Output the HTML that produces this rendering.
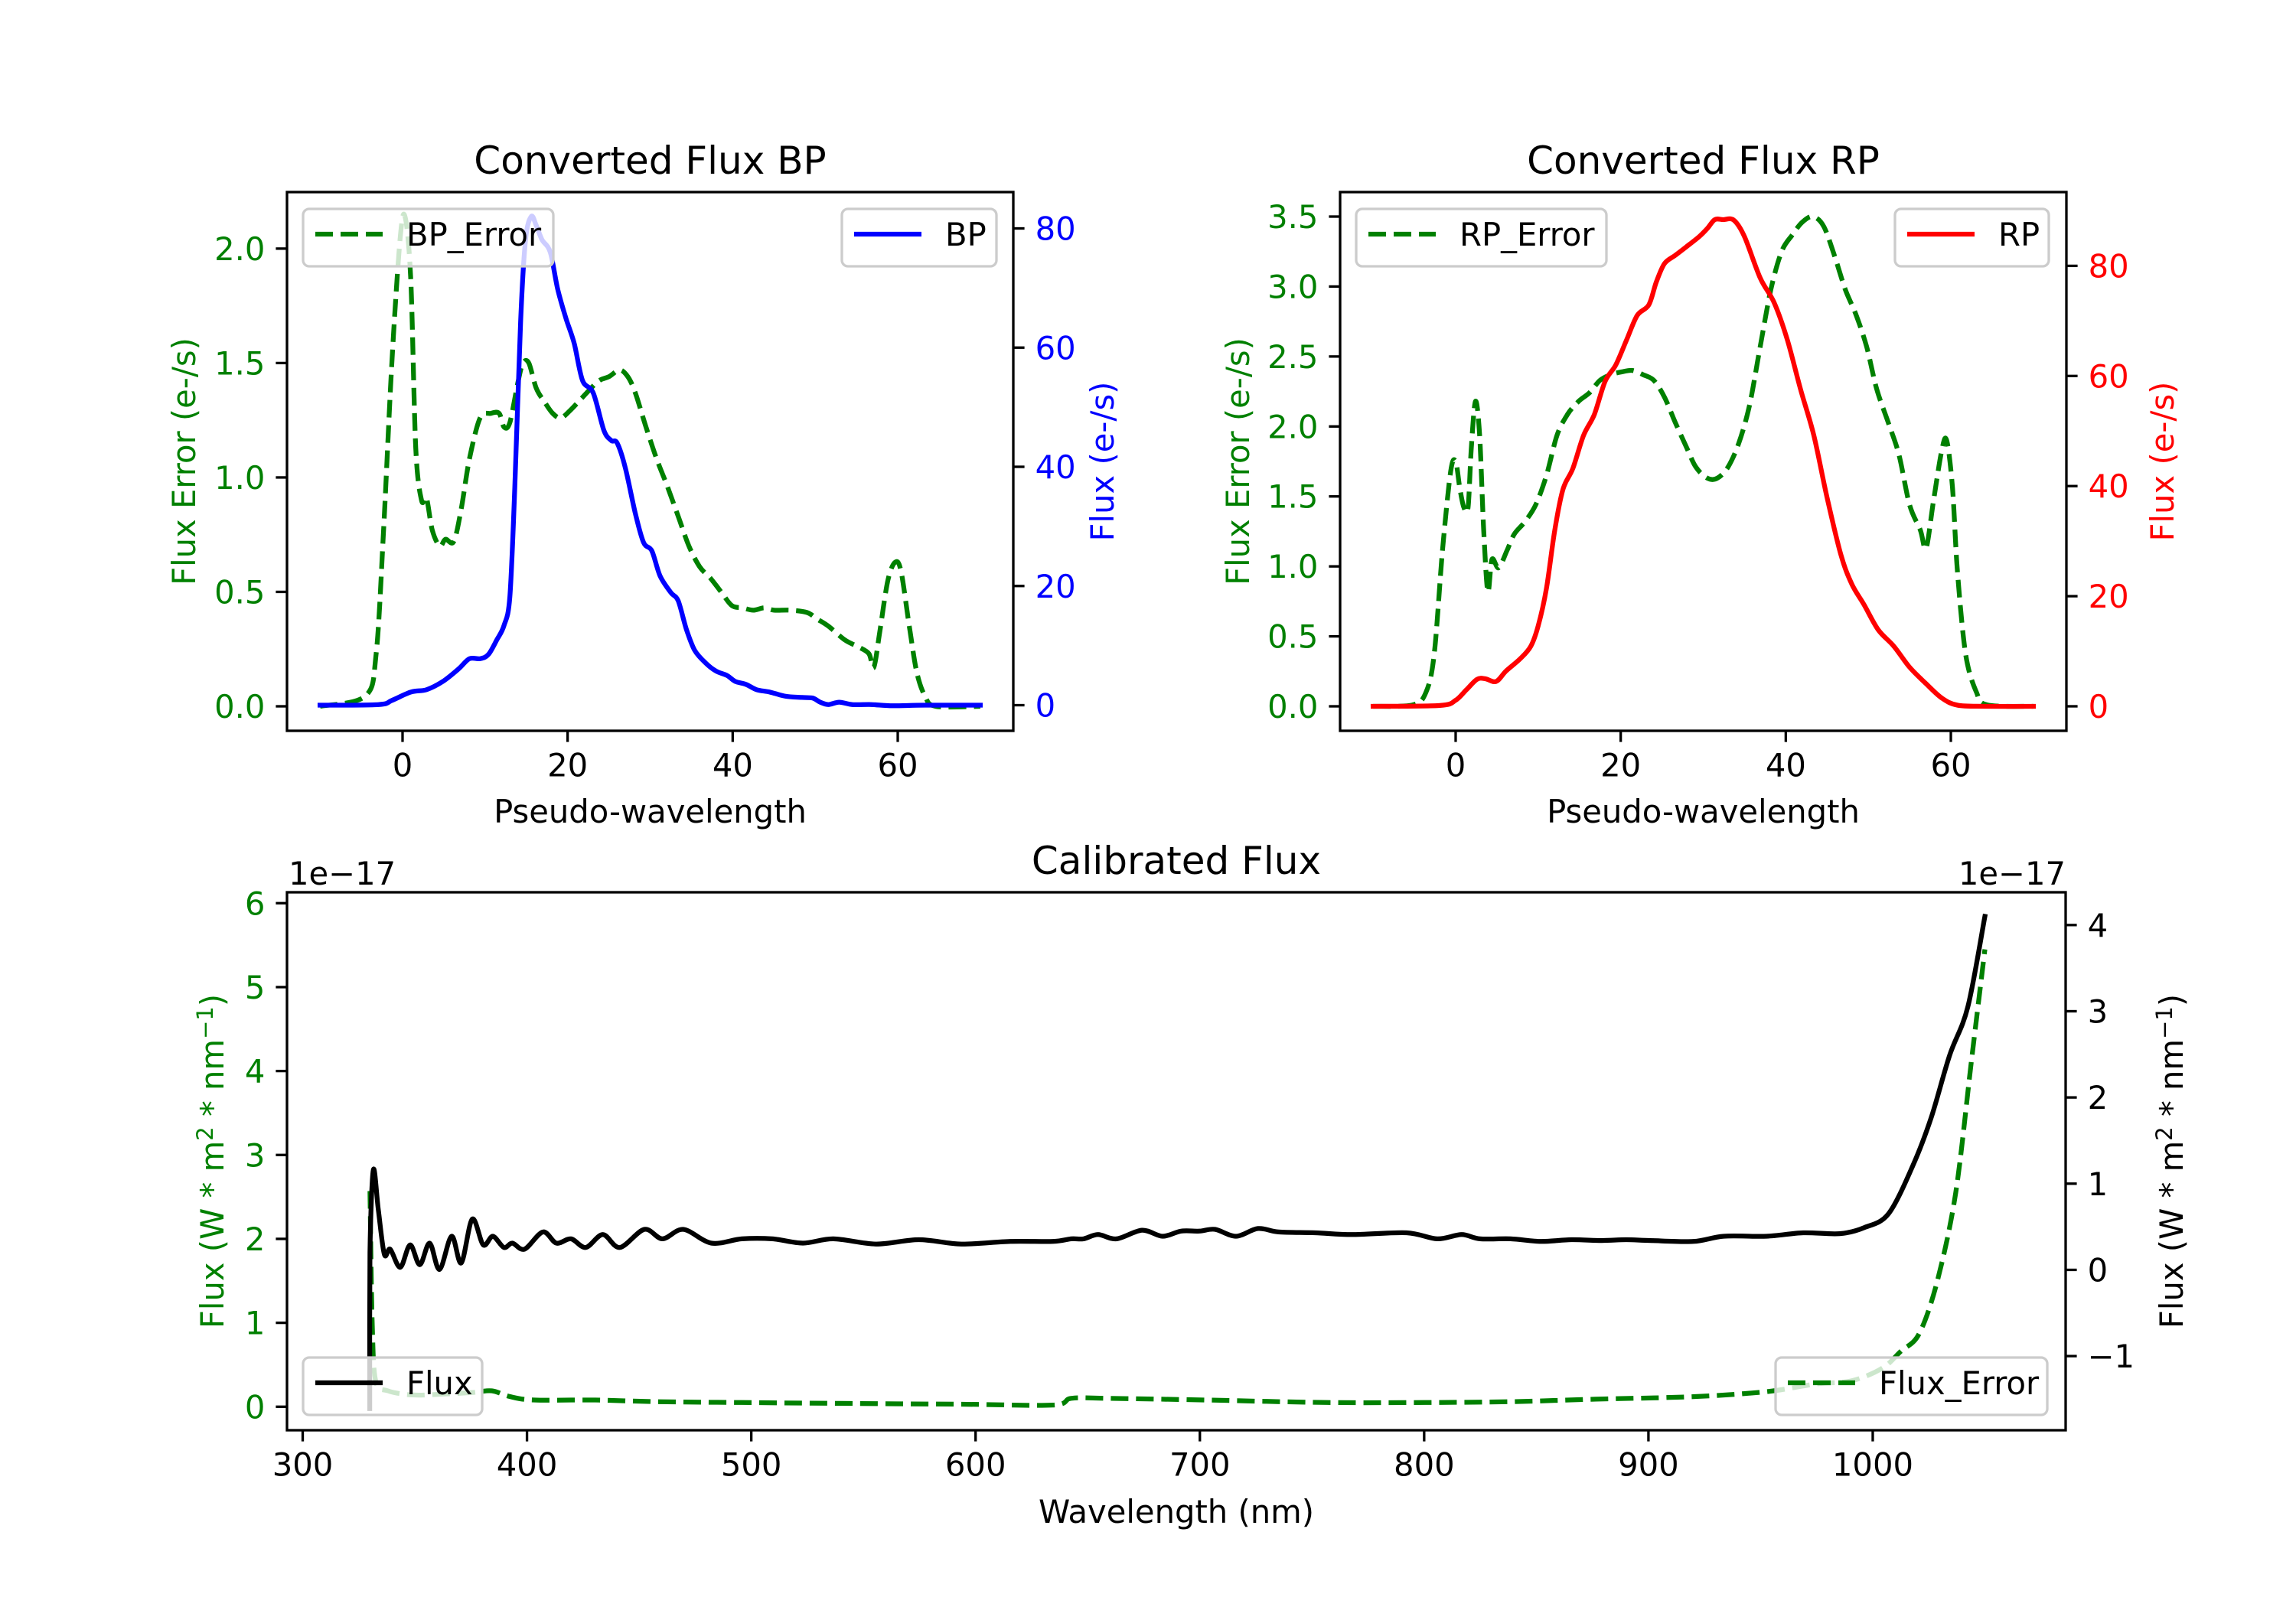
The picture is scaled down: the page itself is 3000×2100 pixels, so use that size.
<!DOCTYPE html>
<html><head><meta charset="utf-8"><style>
html,body{margin:0;padding:0;background:#fff;}
svg{display:block;font-family:"DejaVu Sans","Liberation Sans",sans-serif;}
</style></head>
<body>
<svg id="fig" width="3000" height="2100" viewBox="0 0 3000 2100" xmlns="http://www.w3.org/2000/svg">
<rect width="3000" height="2100" fill="#fff"/>
</svg>
<script>
// ---- BP data ----
const bpErrX = [-10,-4.5,-3.2,-2.3,-1.3,-0.3,0.3,1,1.6,2.3,2.9,3.6,4.5,5.2,6.2,7.1,8.1,9.4,10.7,11.7,12.3,13,14,14.6,15.3,16.2,17.2,18.2,19.2,20.5,21.8,23.7,25,26.3,27.3,28.2,29.5,30.8,32.1,33.4,34.7,36,37.3,38.6,39.9,41.2,42.5,43.8,45,47,49,50.3,51.6,53.6,55.2,56.5,57.1,57.8,58.8,59.7,60.4,61.4,62.3,63.3,64.6,70];
const bpErrY = [0,0.045,0.23,0.77,1.5,2.04,2.14,1.86,1.13,0.9,0.91,0.77,0.70,0.73,0.72,0.86,1.08,1.26,1.28,1.28,1.22,1.24,1.42,1.50,1.50,1.39,1.33,1.28,1.26,1.30,1.35,1.42,1.44,1.47,1.44,1.37,1.22,1.08,0.96,0.83,0.70,0.61,0.56,0.50,0.44,0.43,0.42,0.43,0.42,0.42,0.41,0.38,0.35,0.29,0.26,0.23,0.17,0.32,0.55,0.63,0.59,0.35,0.15,0.045,0,0];
const bpX = [-10,-2.9,-1.3,1,2.9,4.9,6.8,8.1,9.4,10.4,11.4,12.3,13,13.6,14.3,14.9,15.6,16.2,16.9,17.9,18.8,19.8,20.8,21.8,23.1,24.4,25.3,26,27,28.2,29.2,30.2,31.2,32.5,33.4,34.4,35.4,36.7,38,39.3,40.3,41.6,42.9,44.5,46.4,48.4,49.7,50.6,51.6,52.9,54.5,56.8,59.4,63.3,70];
const bpY = [0,0.1,0.8,2.2,2.6,4.0,6.1,7.8,7.8,8.5,10.9,13.4,18.2,36.4,64.2,78.1,82,80.5,78.1,76,69.8,64.9,60.7,54.5,52.4,46.1,44.4,44,39.8,32.2,27.3,25.9,21.7,18.9,17.5,12.7,9.2,7.1,5.7,5.0,4.0,3.5,2.6,2.2,1.5,1.3,1.2,0.5,0.1,0.5,0.1,0.1,-0.1,0,0];
// ---- RP data ----
const rpErrX = [-10,-5.2,-3.6,-2.6,-1.6,-0.6,0,0.5,1,1.5,1.9,2.4,2.9,3.4,3.9,4.4,5.2,6.2,7.1,8.4,9.7,11,12.3,13.6,14.9,16.2,17.5,18.8,20.1,21.4,22.7,24,25.3,26.6,27.9,29.1,30.5,31.7,33,34.3,35.6,36.9,38.2,39.5,40.8,42,43.3,44.6,45.9,47.2,48.5,49.8,51,52.4,53.7,55,56.3,57,57.9,58.9,59.5,60.2,60.8,61.8,63.1,64.4,70];
const rpErrY = [0,0.01,0.1,0.37,1.11,1.68,1.75,1.56,1.42,1.42,1.85,2.18,1.94,1.26,0.82,1.05,0.99,1.11,1.23,1.32,1.44,1.65,1.94,2.09,2.18,2.24,2.33,2.37,2.39,2.40,2.37,2.33,2.21,2.03,1.86,1.71,1.63,1.63,1.71,1.88,2.15,2.57,2.98,3.25,3.37,3.46,3.50,3.43,3.22,2.98,2.80,2.57,2.27,2.03,1.80,1.44,1.26,1.13,1.47,1.83,1.90,1.56,0.96,0.37,0.10,0.01,0];
const rpX = [-10,-1.9,0,1.3,2.6,3.6,4.9,6.1,7.8,9.1,10,11,12,13,14.2,15.5,16.8,18.1,19.4,20.7,22,23.4,24.3,25.3,26.6,27.9,29.5,30.5,31.4,32.4,33.7,35,36.9,38.6,40.2,41.8,43.4,45,46.7,48,49.5,51.2,53.1,55,57,58.9,60.8,64.1,70];
const rpY = [0,0.15,1.1,3.0,4.9,5.0,4.5,6.4,8.6,10.9,14.6,21.4,31.9,39.4,43.2,49.2,53,59,62,66.5,71,72.9,77,80.4,81.9,83.4,85.3,86.8,88.4,88.4,88.3,85.3,77.8,73.3,66.5,57.5,49.2,37.9,27.4,22.2,18.4,13.9,10.9,7.1,4.1,1.5,0.2,0,0];
// ---- Calibrated data (units of 1e-17) ----
const calX = [329.9,330,331.5,333.7,336.4,339,343.5,347.9,352.2,356.6,361,366.4,370.7,375.6,380.5,384.8,389.7,393.5,398.9,407.1,413.1,419.6,426.2,433.8,441.4,452.3,460.4,469.7,482.2,495.8,509.4,523,536.6,555.6,574.7,593.7,615.5,634.5,642.7,648.1,654.6,662.8,674.2,683.4,691.6,699.8,706.8,716.1,725.9,735.1,751.4,767.8,792.2,805.8,816.7,824.9,838.5,852.1,865.6,879.2,890.1,901,920,933.6,952.7,969,985.3,996.2,1007,1017.9,1026.1,1034.3,1042.4,1050];
const calY = [-1.61,0.2,1.16,0.70,0.18,0.24,0.03,0.29,0.06,0.31,0.005,0.39,0.08,0.59,0.29,0.39,0.26,0.31,0.24,0.44,0.31,0.36,0.26,0.41,0.26,0.47,0.36,0.47,0.31,0.36,0.36,0.31,0.36,0.30,0.35,0.30,0.33,0.33,0.36,0.36,0.41,0.36,0.46,0.39,0.45,0.45,0.47,0.39,0.48,0.44,0.43,0.41,0.43,0.36,0.41,0.36,0.36,0.33,0.35,0.34,0.35,0.34,0.33,0.39,0.39,0.43,0.42,0.49,0.65,1.21,1.77,2.49,3.05,4.10];
const calErrX = [330,331,332.6,338,348.9,362.5,376,384.3,392.5,403.3,430.5,457.7,495.8,539.3,593.7,634.5,642.7,659,702.5,756.9,800.4,838.5,876.6,920,952.7,974.4,990.7,1004.3,1012.5,1020.7,1028.8,1037,1044,1050];
const calErrY = [2.57,0.98,0.30,0.19,0.14,0.15,0.17,0.19,0.12,0.08,0.08,0.06,0.05,0.04,0.03,0.02,0.10,0.10,0.08,0.05,0.05,0.06,0.09,0.12,0.18,0.27,0.31,0.46,0.66,0.87,1.50,2.55,4.12,5.45];
// ---- tick labels ----
const topXTicks = [0,20,40,60];
const bpErrTicks = [0,0.5,1.0,1.5,2.0];
const bpTicks = [0,20,40,60,80];
const rpErrTicks = [0,0.5,1.0,1.5,2.0,2.5,3.0,3.5];
const rpTicks = [0,20,40,60,80];
const calXTicks = [300,400,500,600,700,800,900,1000];
const calErrTicks = [0,1,2,3,4,5,6];
const calTicks = [-1,0,1,2,3,4];

const NS = 'http://www.w3.org/2000/svg';
const svg = document.getElementById('fig');
const FS = 41.7, TL = 14.6, LW = 6.25;
function el(tag, attrs, parent, txt){
  const e = document.createElementNS(NS, tag);
  for (const k in attrs) e.setAttribute(k, attrs[k]);
  if (txt !== undefined) e.textContent = txt;
  (parent || svg).appendChild(e);
  return e;
}
function lin(d0,d1,p0,p1){ return v => p0 + (v-d0)*(p1-p0)/(d1-d0); }
function fmt(v,dec){ let s = v.toFixed(dec); return s.replace('-', '\u2212'); }
function smoothPath(P){
  let d = 'M' + P[0][0].toFixed(1) + ',' + P[0][1].toFixed(1);
  const k = 0.16;
  for (let i = 0; i < P.length-1; i++){
    const p0 = P[Math.max(i-1,0)], p1 = P[i], p2 = P[i+1], p3 = P[Math.min(i+2,P.length-1)];
    const c1x = p1[0] + (p2[0]-p0[0])*k, c1y = p1[1] + (p2[1]-p0[1])*k;
    const c2x = p2[0] - (p3[0]-p1[0])*k, c2y = p2[1] - (p3[1]-p1[1])*k;
    d += ' C' + c1x.toFixed(1)+','+c1y.toFixed(1)+' '+c2x.toFixed(1)+','+c2y.toFixed(1)+' '+p2[0].toFixed(1)+','+p2[1].toFixed(1);
  }
  return d;
}

function panel(cfg){
  const g = el('g', {});
  
  
  const {L,R,T,B} = cfg;
  const sx = lin(cfg.xlim[0], cfg.xlim[1], L, R);
  const syL = lin(cfg.ylL[0], cfg.ylL[1], B, T);
  const syR = lin(cfg.ylR[0], cfg.ylR[1], B, T);
  function series(xs, ys, sy, color, dashed, nm){
    const P = xs.map((x,i)=> [sx(x), sy(ys[i])]);
    const p = el('path', {d: smoothPath(P), fill:'none', stroke: color, 'stroke-width': LW, 'stroke-linejoin':'round', 'stroke-linecap': dashed ? 'butt':'square'}, g);
    if (dashed) p.setAttribute('stroke-dasharray', '23 10');
    
    
  }
  for (const s of cfg.series) series(s.x, s.y, s.axis==='L'?syL:syR, s.color, s.dashed, s.name);
  const fr = el('rect', {x:L, y:T, width:R-L, height:B-T, fill:'none', stroke:'#000', 'stroke-width':3.3}, g);
  
  
  for (const t of cfg.xticks){
    const x = sx(t);
    el('line', {x1:x, x2:x, y1:B, y2:B+TL, stroke:'#000', 'stroke-width':3.3}, g);
    const tx = el('text', {x:x, y:B+TL+14+31, 'font-size':FS, 'text-anchor':'middle', fill:'#000'}, g, fmt(t,0));
    
    
  }
  for (const t of cfg.yticksL){
    const y = syL(t);
    el('line', {x1:L, x2:L-TL, y1:y, y2:y, stroke:'#000', 'stroke-width':3.3}, g);
    const tx = el('text', {x:L-TL-14, y:y+15, 'font-size':FS, 'text-anchor':'end', fill:cfg.colL}, g, fmt(t,cfg.decL));
    
    
  }
  for (const t of cfg.yticksR){
    const y = syR(t);
    el('line', {x1:R, x2:R+TL, y1:y, y2:y, stroke:'#000', 'stroke-width':3.3}, g);
    const tx = el('text', {x:R+TL+14, y:y+15, 'font-size':FS, 'text-anchor':'start', fill:cfg.colR}, g, fmt(t,cfg.decR));
    
    
  }
  const ti = el('text', {x:(L+R)/2, y:T-24, 'font-size':50, 'text-anchor':'middle', fill:'#000'}, g, cfg.title);
  
  
  if (cfg.xlabel){
    const xl = el('text', {x:(L+R)/2, y:cfg.xlabelY, 'font-size':FS, 'text-anchor':'middle', fill:'#000'}, g, cfg.xlabel);
    
    
  }
  const ym = (T+B)/2;
  const yl = el('text', {x:0, y:0, 'font-size':FS, 'text-anchor':'middle', fill:cfg.colL, transform:`translate(${cfg.ylabLX},${ym}) rotate(-90)`}, g);
  yl.innerHTML = cfg.ylabL;
  
  
  const yr = el('text', {x:0, y:0, 'font-size':FS, 'text-anchor':'middle', fill:cfg.colR, transform:`translate(${cfg.ylabRX},${ym}) rotate(-90)`}, g);
  yr.innerHTML = cfg.ylabR;
  
  
  for (const lg of cfg.legends){
    const lgG = el('g', {}, g);
    
    
    el('rect', {x:lg.x, y:lg.y, width:lg.w, height:75, rx:8, fill:'#fff', 'fill-opacity':0.8, stroke:'#ccc', 'stroke-width':3.3}, lgG);
    const ly = lg.y + 33;
    const ln = el('line', {x1:lg.x+16, x2:lg.x+104, y1:ly, y2:ly, stroke:lg.color, 'stroke-width':LW}, lgG);
    if (lg.dashed) ln.setAttribute('stroke-dasharray', '23 10');
    el('text', {x:lg.x+135, y:ly+15, 'font-size':FS, fill:'#000'}, lgG, lg.label);
  }
  return g;
}

panel({name:'bp-chart', L:375, R:1324, T:251, B:955, xlim:[-14,74], ylL:[-0.107,2.247], ylR:[-4.3,86.1],
  xticks:topXTicks, yticksL:bpErrTicks, yticksR:bpTicks, decL:1, decR:0, colL:'#008000', colR:'#0000ff',
  title:'Converted Flux BP', xlabel:'Pseudo-wavelength', xlabelY:1075,
  ylabL:'Flux Error (e-/s)', ylabR:'Flux (e-/s)', ylabLX:255, ylabRX:1455,
  series:[{x:bpErrX,y:bpErrY,axis:'L',color:'#008000',dashed:true,name:'bp-error-line'},
          {x:bpX,y:bpY,axis:'R',color:'#0000ff',dashed:false,name:'bp-flux-line'}],
  legends:[{x:396,y:273,w:327,label:'BP_Error',color:'#008000',dashed:true},
           {x:1100,y:273,w:202,label:'BP',color:'#0000ff',dashed:false}]});

panel({name:'rp-chart', L:1751, R:2700, T:251, B:955, xlim:[-14,74], ylL:[-0.175,3.675], ylR:[-4.45,93.4],
  xticks:topXTicks, yticksL:rpErrTicks, yticksR:rpTicks, decL:1, decR:0, colL:'#008000', colR:'#ff0000',
  title:'Converted Flux RP', xlabel:'Pseudo-wavelength', xlabelY:1075,
  ylabL:'Flux Error (e-/s)', ylabR:'Flux (e-/s)', ylabLX:1632, ylabRX:2840,
  series:[{x:rpErrX,y:rpErrY,axis:'L',color:'#008000',dashed:true,name:'rp-error-line'},
          {x:rpX,y:rpY,axis:'R',color:'#ff0000',dashed:false,name:'rp-flux-line'}],
  legends:[{x:1772,y:273,w:327,label:'RP_Error',color:'#008000',dashed:true},
           {x:2476,y:273,w:201,label:'RP',color:'#ff0000',dashed:false}]});

panel({name:'calibrated-chart', L:375, R:2699, T:1166, B:1869, xlim:[293,1086], ylL:[-0.28,6.13], ylR:[-1.86,4.38],
  xticks:calXTicks, yticksL:calErrTicks, yticksR:calTicks, decL:0, decR:0, colL:'#008000', colR:'#000',
  title:'Calibrated Flux', xlabel:'Wavelength (nm)', xlabelY:1990,
  ylabL:'Flux (W * m<tspan dy="-14" font-size="29">2</tspan><tspan dy="14"> * nm</tspan><tspan dy="-14" font-size="29">\u22121</tspan><tspan dy="14">)</tspan>',
  ylabR:'Flux (W * m<tspan dy="-14" font-size="29">2</tspan><tspan dy="14"> * nm</tspan><tspan dy="-14" font-size="29">\u22121</tspan><tspan dy="14">)</tspan>',
  ylabLX:292, ylabRX:2852,
  series:[{x:calErrX,y:calErrY,axis:'L',color:'#008000',dashed:true,name:'flux-error-line'},
          {x:calX,y:calY,axis:'R',color:'#000',dashed:false,name:'flux-line'}],
  legends:[{x:396,y:1774,w:234,label:'Flux',color:'#000',dashed:false},
           {x:2320,y:1774,w:355,label:'Flux_Error',color:'#008000',dashed:true}]});

const o1 = el('text', {x:377, y:1156, 'font-size':FS, fill:'#000'}, svg, '1e\u221217');


const o2 = el('text', {x:2699, y:1156, 'font-size':FS, 'text-anchor':'end', fill:'#000'}, svg, '1e\u221217');


</script>
</body></html>
